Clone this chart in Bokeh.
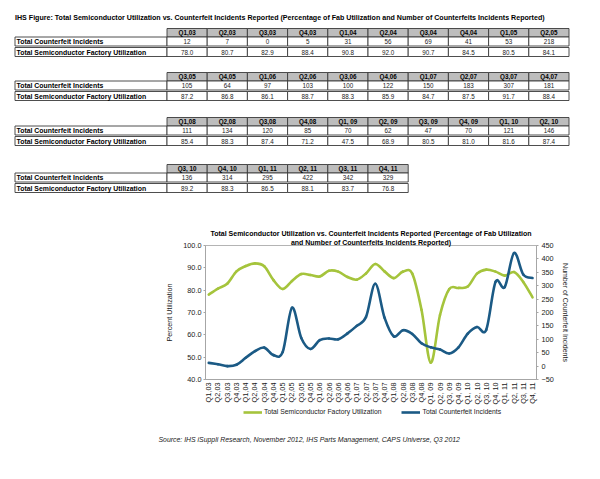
import math
from bokeh.plotting import figure
from bokeh.models import (Range1d, LinearAxis, FixedTicker, Legend, LegendItem, Title,
                          ColumnDataSource, NumeralTickFormatter, Plot)
from bokeh.layouts import column
from bokeh.embed import file_html
from bokeh.resources import INLINE
from bokeh.core.properties import value

# ---------------- data ----------------
quarters = ["Q1,03", "Q2,03", "Q3,03", "Q4,03", "Q1,04", "Q2,04", "Q3,04", "Q4,04", "Q1,05", "Q2,05",
            "Q3,05", "Q4,05", "Q1,06", "Q2,06", "Q3,06", "Q4,06", "Q1,07", "Q2,07", "Q3,07", "Q4,07",
            "Q1,08", "Q2,08", "Q3,08", "Q4,08", "Q1, 09", "Q2, 09", "Q3, 09", "Q4, 09", "Q1, 10", "Q2, 10",
            "Q3, 10", "Q4, 10", "Q1, 11", "Q2, 11", "Q3, 11", "Q4, 11"]
incidents = [12, 7, 0, 5, 31, 56, 69, 41, 53, 218,
             105, 64, 97, 103, 100, 122, 150, 183, 307, 181,
             111, 134, 120, 85, 70, 62, 47, 70, 121, 146,
             136, 314, 295, 422, 342, 329]
utilization = [78.0, 80.7, 82.9, 88.4, 90.8, 92.0, 90.7, 84.5, 80.5, 84.1,
               87.2, 86.8, 86.1, 88.7, 88.3, 85.9, 84.7, 87.5, 91.7, 88.4,
               85.4, 88.3, 87.4, 71.2, 47.5, 68.9, 80.5, 81.0, 81.6, 87.4,
               89.2, 88.3, 86.5, 88.1, 83.7, 76.8]
row_labels = ["Total Counterfeit Incidents", "Total Semiconductor Factory Utilization"]
fig_title = ("IHS Figure: Total Semiconductor Utilization vs. Counterfeit Incidents Reported "
             "(Percentage of Fab Utilization and Number of Counterfeits Incidents Reported)")
chart_title = ["Total Semiconductor Utilization vs. Counterfeit Incidents Reported (Percentage of Fab Utilization",
               "and Number of Counterfeits Incidents Reported)"]
left_label = "Percent Utilization"
right_label = "Number of Counterfeit Incidents"
legend_labels = ["Total Semiconductor Factory Utilization", "Total Counterfeit Incidents"]
source_text = "Source:  IHS iSuppli Research, November 2012, IHS Parts Management, CAPS Universe, Q3 2012"
left_ticks = [40, 50, 60, 70, 80, 90, 100]
right_ticks = [-50, 0, 50, 100, 150, 200, 250, 300, 350, 400, 450]
table_chunks = [(0, 10), (10, 20), (20, 30), (30, 36)]

FONT = "Liberation Sans"
GREEN = "#A5C43C"
BLUE = "#1B5A85"
W = 592
NAN = float("nan")

extra = {"frame_align": False} if "frame_align" in Plot.properties() else {}


def canvas_fig(h):
    f = figure(width=W, height=h, x_range=Range1d(0, W), y_range=Range1d(h, 0),
               x_axis_type=None, y_axis_type=None, output_backend="svg", toolbar_location=None,
               min_border=0, outline_line_color=None, **extra)
    f.grid.visible = False
    return f


# ---------------- top figure: title + tables ----------------
TOP_H = 222
top = canvas_fig(TOP_H)

top.text(x=[14.5], y=[17], text=[fig_title], text_font=value(FONT), text_font_size=value("7.1px"),
         text_font_style="bold", text_baseline="middle", text_align="left", text_color="#000000")

table_tops = [28, 72, 117, 164]
LBL_L, LBL_R, COL_W = 14.5, 166.5, 40.2
HDR_H, ROW_H, GAP = 8.5, 9.0, 1.5

hdr = dict(l=[], r=[], t=[], b=[], x=[], y=[], txt=[])
cell = dict(l=[], r=[], t=[], b=[])
vals = dict(x=[], y=[], txt=[])
labs = dict(x=[], y=[], txt=[])
for (a, b), t0 in zip(table_chunks, table_tops):
    rows_top = [t0 + HDR_H, t0 + HDR_H + ROW_H + GAP]
    for k, rt in enumerate(rows_top):
        cell["l"].append(LBL_L); cell["r"].append(LBL_R); cell["t"].append(rt); cell["b"].append(rt + ROW_H)
        labs["x"].append(LBL_L + 1.5); labs["y"].append(rt + ROW_H / 2); labs["txt"].append(row_labels[k])
    for j in range(a, b):
        l = LBL_R + (j - a) * COL_W
        hdr["l"].append(l); hdr["r"].append(l + COL_W); hdr["t"].append(t0); hdr["b"].append(t0 + HDR_H)
        hdr["x"].append(l + COL_W / 2); hdr["y"].append(t0 + HDR_H / 2); hdr["txt"].append(quarters[j])
        for k, rt in enumerate(rows_top):
            cell["l"].append(l); cell["r"].append(l + COL_W); cell["t"].append(rt); cell["b"].append(rt + ROW_H)
            vals["x"].append(l + COL_W / 2); vals["y"].append(rt + ROW_H / 2)
            vals["txt"].append(str(incidents[j]) if k == 0 else f"{utilization[j]:.1f}")

top.quad(left="l", right="r", top="t", bottom="b", source=ColumnDataSource(hdr),
         fill_color="#BDBDBD", line_color="#3A3A3A", line_width=0.9)
top.quad(left="l", right="r", top="t", bottom="b", source=ColumnDataSource(cell),
         fill_color="#FFFFFF", line_color="#3A3A3A", line_width=0.9)
top.text(x="x", y="y", text="txt", source=ColumnDataSource(dict(x=hdr["x"], y=hdr["y"], txt=hdr["txt"])),
         text_font=value(FONT), text_font_size=value("6.3px"), text_font_style="bold",
         text_align="center", text_baseline="middle", text_color="#000000")
top.text(x="x", y="y", text="txt", source=ColumnDataSource(vals),
         text_font=value(FONT), text_font_size=value("6.3px"),
         text_align="center", text_baseline="middle", text_color="#222222")
top.text(x="x", y="y", text="txt", source=ColumnDataSource(labs),
         text_font=value(FONT), text_font_size=value("6.9px"), text_font_style="bold",
         text_align="left", text_baseline="middle", text_color="#000000")

# ---------------- chart ----------------
p = figure(frame_width=331, frame_height=134, x_range=Range1d(-0.35, 35.43), y_range=Range1d(40, 100),
           output_backend="svg", toolbar_location=None, title=None,
           min_border_left=205, min_border_right=W - 536, min_border_top=245 - TOP_H, min_border_bottom=26,
           outline_line_color="#B4B4B4", **extra)
p.extra_y_ranges = {"cnt": Range1d(-50, 450)}
p.grid.visible = False

# second title line first (closest to the frame), then the first line above it
for txt in (chart_title[1], chart_title[0]):
    p.add_layout(Title(text=txt, align="center", standoff=0, offset=1.5,
                       text_font=FONT, text_font_size="7px", text_font_style="bold",
                       text_color="#000000"), "above")


def bezier_source(ys):
    n = len(ys)
    xs = list(range(n))
    d = dict(x0=[], y0=[], x1=[], y1=[], cx0=[], cy0=[], cx1=[], cy1=[])
    for i in range(n - 1):
        pm, pp = max(i - 1, 0), min(i + 2, n - 1)
        d["x0"].append(xs[i]); d["y0"].append(ys[i])
        d["x1"].append(xs[i + 1]); d["y1"].append(ys[i + 1])
        d["cx0"].append(xs[i] + (xs[i + 1] - xs[pm]) / 6.0)
        d["cy0"].append(ys[i] + (ys[i + 1] - ys[pm]) / 6.0)
        d["cx1"].append(xs[i + 1] - (xs[pp] - xs[i]) / 6.0)
        d["cy1"].append(ys[i + 1] - (ys[pp] - ys[i]) / 6.0)
    return ColumnDataSource(d)


p.bezier(x0="x0", y0="y0", x1="x1", y1="y1", cx0="cx0", cy0="cy0", cx1="cx1", cy1="cy1",
         source=bezier_source(utilization), line_color=GREEN, line_width=2.6, line_cap="round")
p.bezier(x0="x0", y0="y0", x1="x1", y1="y1", cx0="cx0", cy0="cy0", cx1="cx1", cy1="cy1",
         source=bezier_source(incidents), line_color=BLUE, line_width=2.6, line_cap="round",
         y_range_name="cnt")

AX = "#A6A6A6"
xa = p.xaxis[0]
xa.ticker = FixedTicker(ticks=list(range(len(quarters))))
xa.major_label_overrides = {i: q for i, q in enumerate(quarters)}
xa.major_label_orientation = math.pi / 2
xa.major_tick_out = 0
xa.major_tick_in = 0
xa.minor_tick_out = 0
xa.major_label_standoff = 3

ya = p.yaxis[0]
ya.ticker = FixedTicker(ticks=left_ticks)
ya.formatter = NumeralTickFormatter(format="0.0")
ya.major_tick_out = 2
ya.major_tick_in = 0
ya.minor_tick_out = 0
ya.major_label_standoff = 2
ya.axis_label = left_label
ya.axis_label_standoff = 6
ya.axis_label_text_font_size = "7.2px"

ra = LinearAxis(y_range_name="cnt", ticker=FixedTicker(ticks=right_ticks))
ra.major_tick_out = 2
ra.major_tick_in = 0
ra.minor_tick_out = 0
ra.major_label_standoff = 3
ra.axis_label = right_label
ra.axis_label_standoff = 5
ra.axis_label_text_font_size = "7px"
p.add_layout(ra, "right")

for ax in (xa, ya, ra):
    ax.axis_line_color = AX
    ax.major_tick_line_color = AX
    ax.major_label_text_font = FONT
    ax.major_label_text_color = "#1A1A1A"
    ax.major_label_text_font_size = "7.3px"
    ax.axis_label_text_font = FONT
    ax.axis_label_text_font_style = "normal"
    ax.axis_label_text_color = "#1A1A1A"

# ---------------- legend + source line ----------------
BOT_H = 40
bot = canvas_fig(BOT_H)
lg = bot.line(x=[NAN], y=[NAN], line_color=GREEN, line_width=2.6)
lb = bot.line(x=[NAN], y=[NAN], line_color=BLUE, line_width=2.6)
legend = Legend(items=[LegendItem(label=legend_labels[0], renderers=[lg]),
                       LegendItem(label=legend_labels[1], renderers=[lb])],
                location=(243, 31.5), orientation="horizontal", padding=0, margin=0, spacing=20,
                label_standoff=2, glyph_width=19, glyph_height=8, label_height=8,
                border_line_color=None, background_fill_alpha=0,
                label_text_font=FONT, label_text_font_size="6.8px", label_text_color="#1A1A1A")
bot.add_layout(legend)
bot.text(x=[158], y=[32], text=[source_text], text_font=value(FONT), text_font_size=value("6.9px"),
         text_font_style="italic", text_align="left", text_baseline="middle", text_color="#1A1A1A")

layout = column(top, p, bot)
open("out.html", "w").write(file_html(layout, INLINE))
